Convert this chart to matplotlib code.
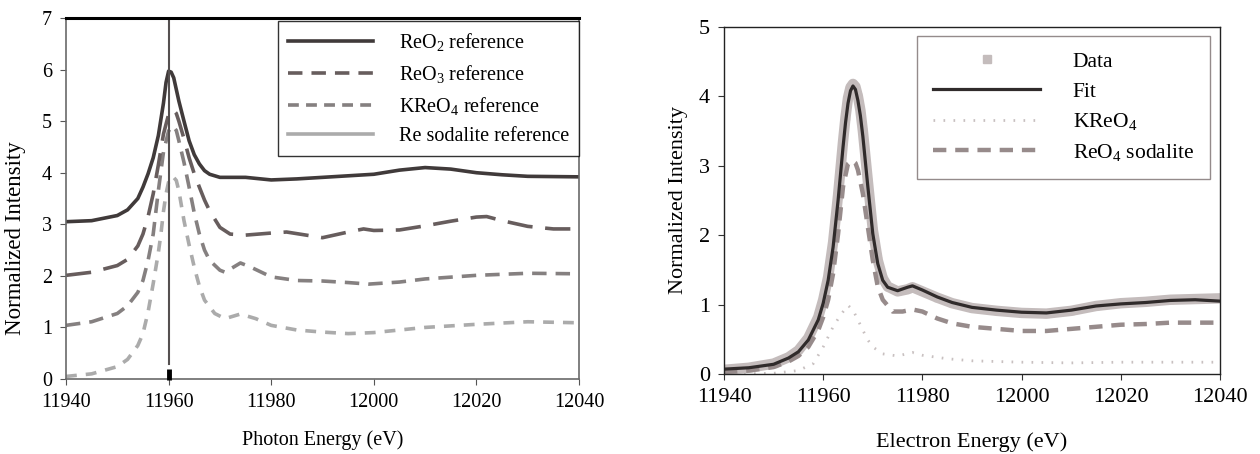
import numpy as np
import matplotlib
matplotlib.use("Agg")
import matplotlib.pyplot as plt
from matplotlib.lines import Line2D

plt.rcParams['font.family'] = ['Liberation Serif', 'DejaVu Serif']
plt.rcParams['mathtext.fontset'] = 'custom'
plt.rcParams['mathtext.rm'] = 'Liberation Serif'
plt.rcParams['mathtext.it'] = 'Liberation Serif:italic'

## ------------------------------ left panel: reference spectra ------------------------------
reo2_e = [11940, 11945, 11950, 11952, 11954, 11955, 11956, 11957, 11958, 11959, 11959.5, 11960,
          11960.5, 11961, 11962, 11963, 11964, 11965, 11966, 11967, 11968, 11970, 11975, 11980,
          11985, 11990, 12000, 12005, 12010, 12015, 12020, 12025, 12030, 12040]
reo2_i = [3.05, 3.07, 3.17, 3.28, 3.50, 3.72, 3.98, 4.29, 4.72, 5.35, 5.75, 5.97,
          5.95, 5.84, 5.39, 5.00, 4.62, 4.35, 4.17, 4.04, 3.97, 3.91, 3.91, 3.86,
          3.88, 3.91, 3.97, 4.05, 4.10, 4.07, 4.00, 3.96, 3.93, 3.92]

reo3_e = [11940, 11945, 11950, 11952, 11954, 11955, 11956, 11957, 11958, 11959, 11960, 11960.8,
          11961.5, 11962, 11963, 11964, 11965, 11966, 11967, 11968, 11970, 11972, 11975, 11980,
          11983, 11990, 11995, 11998, 12000, 12005, 12010, 12015, 12020, 12022, 12025, 12030,
          12035, 12040]
reo3_i = [2.01, 2.07, 2.20, 2.32, 2.58, 2.81, 3.15, 3.59, 4.15, 4.75, 5.13, 5.23,
          5.15, 5.00, 4.66, 4.29, 3.98, 3.72, 3.47, 3.26, 2.94, 2.81, 2.79, 2.83,
          2.85, 2.74, 2.85, 2.91, 2.88, 2.89, 2.97, 3.06, 3.14, 3.15, 3.07, 2.96,
          2.91, 2.91]

kreo4_e = [11940, 11945, 11950, 11952, 11954, 11955, 11956, 11957, 11958, 11959, 11960, 11960.8,
           11961.5, 11962, 11963, 11964, 11965, 11966, 11967, 11968, 11970, 11971, 11974, 11976,
           11980, 11985, 11990, 11995, 11999, 12005, 12010, 12020, 12030, 12040]
kreo4_i = [1.04, 1.11, 1.27, 1.42, 1.68, 1.91, 2.30, 2.81, 3.65, 4.40, 4.81, 4.91,
           4.82, 4.62, 4.20, 3.72, 3.22, 2.81, 2.50, 2.30, 2.11, 2.07, 2.25, 2.17,
           1.98, 1.91, 1.90, 1.87, 1.84, 1.88, 1.94, 2.01, 2.05, 2.04]

resod_e = [11940, 11945, 11950, 11952, 11954, 11955, 11956, 11957, 11958, 11958.5, 11959, 11959.5,
           11960, 11960.8, 11961.5, 11962, 11963, 11964, 11965, 11966, 11967, 11969, 11971, 11974,
           11977, 11980, 11985, 11990, 11995, 12000, 12005, 12010, 12020, 12030, 12040]
resod_i = [0.05, 0.10, 0.24, 0.38, 0.65, 0.88, 1.30, 1.85, 2.45, 2.81, 3.25, 3.59,
           3.82, 3.93, 3.85, 3.65, 3.07, 2.60, 2.17, 1.80, 1.53, 1.27, 1.17, 1.26,
           1.17, 1.04, 0.95, 0.91, 0.88, 0.90, 0.95, 1.00, 1.06, 1.11, 1.09]

edge_energy = 11960
left_labels = [r'ReO$_2$ reference', r'ReO$_3$ reference', r'KReO$_4$ reference',
               'Re sodalite reference']

## ------------------------------ right panel: fit of sample ------------------------------
fit_e = [11940, 11945, 11950, 11953, 11955, 11957, 11959, 11960, 11961, 11962, 11963, 11964,
         11964.5, 11965, 11965.5, 11966, 11966.5, 11967, 11967.5, 11968, 11969, 11970, 11971, 11972,
         11973, 11975, 11977, 11978, 11980, 11983, 11986, 11990, 11995, 12000, 12005, 12010,
         12015, 12020, 12025, 12030, 12035, 12040]
fit_i = [0.07, 0.09, 0.14, 0.23, 0.32, 0.49, 0.78, 1.02, 1.35, 1.83, 2.50, 3.27,
         3.62, 3.90, 4.08, 4.15, 4.10, 3.94, 3.72, 3.42, 2.70, 2.02, 1.59, 1.35,
         1.25, 1.20, 1.25, 1.27, 1.21, 1.11, 1.03, 0.96, 0.92, 0.89, 0.88, 0.92,
         0.98, 1.01, 1.03, 1.06, 1.07, 1.05]
data_i = [0.06, 0.09, 0.15, 0.24, 0.34, 0.52, 0.82, 1.07, 1.40, 1.90, 2.58, 3.35,
          3.70, 3.98, 4.13, 4.18, 4.14, 4.00, 3.80, 3.50, 2.78, 2.08, 1.64, 1.38,
          1.26, 1.19, 1.22, 1.25, 1.19, 1.10, 1.02, 0.95, 0.91, 0.88, 0.87, 0.91,
          0.98, 1.02, 1.04, 1.07, 1.08, 1.09]

kcomp_e = [11940, 11950, 11955, 11958, 11960, 11962, 11963.5, 11965, 11966, 11967, 11968, 11969,
           11970, 11972, 11975, 11978, 11980, 11985, 11990, 12000, 12010, 12020, 12040]
kcomp_i = [0.00, 0.01, 0.05, 0.15, 0.39, 0.68, 0.85, 0.99, 0.92, 0.78, 0.63, 0.49,
           0.39, 0.29, 0.26, 0.31, 0.27, 0.22, 0.19, 0.17, 0.16, 0.17, 0.17]

sod_e = [11940, 11945, 11950, 11953, 11955, 11957, 11959, 11960, 11961, 11962, 11963, 11964,
         11965, 11965.8, 11966.5, 11967, 11968, 11969, 11970, 11971, 11972, 11974, 11976, 11978,
         11980, 11983, 11986, 11990, 11995, 12000, 12005, 12010, 12015, 12020, 12025, 12030,
         12040]
sod_i = [0.03, 0.05, 0.10, 0.18, 0.26, 0.39, 0.63, 0.82, 1.07, 1.45, 2.02, 2.70,
         3.03, 3.08, 3.04, 2.94, 2.60, 2.12, 1.64, 1.26, 1.07, 0.90, 0.90, 0.93,
         0.90, 0.80, 0.73, 0.68, 0.65, 0.62, 0.62, 0.65, 0.68, 0.71, 0.72, 0.74,
         0.74]

right_labels = ['Data', 'Fit', r'KReO$_4$', r'ReO$_4$ sodalite']

xticks = [11940, 11960, 11980, 12000, 12020, 12040]

fig = plt.figure(figsize=(12.6, 4.54), dpi=100)

# left panel
ax1 = fig.add_axes([66/1260, 1 - 379/454, 513/1260, 361/454])
c_reo2, c_reo3, c_kreo4, c_sod = '#403a3a', '#675d5d', '#858080', '#ababab'
ax1.plot(resod_e, resod_i, color=c_sod, lw=2.6, dashes=(3, 2.5))
ax1.plot(kreo4_e, kreo4_i, color=c_kreo4, lw=2.6, dashes=(4, 2.5))
ax1.plot(reo3_e, reo3_i, color=c_reo3, lw=2.6, dashes=(7, 3.5))
ax1.plot(reo2_e, reo2_i, color=c_reo2, lw=2.6)
ax1.axvline(edge_energy, ymin=0.3/7, ymax=1, color='#555050', lw=1.5)
ax1.plot([edge_energy, edge_energy], [-0.02, 0.19], color='black', lw=3.5,
         solid_capstyle='butt', clip_on=False, zorder=5)
ax1.set_xlim(11940, 12040)
ax1.set_ylim(0, 7)
ax1.set_xticks(xticks)
ax1.set_yticks(range(0, 8))
ax1.tick_params(direction='out', length=4, labelsize=14.5, color='#555555', pad=6)
ax1.spines['top'].set_linewidth(2.2)
ax1.spines['top'].set_color('black')
for s in ['left', 'bottom', 'right']:
    ax1.spines[s].set_color('#6a6a6a')
    ax1.spines[s].set_linewidth(1.2)
ax1.set_xlabel('Photon Energy (eV)', fontsize=14.5, labelpad=13)
ax1.set_ylabel('Normalized Intensity', fontsize=16.5)
ax1.yaxis.set_label_coords(-0.078, 0.39)
h1 = [Line2D([], [], color=c_reo2, lw=2.6),
      Line2D([], [], color=c_reo3, lw=2.6, dashes=(4, 2.5)),
      Line2D([], [], color=c_kreo4, lw=2.6, dashes=(3, 2)),
      Line2D([], [], color=c_sod, lw=2.6)]
leg1 = ax1.legend(h1, left_labels, loc='upper right', bbox_to_anchor=(1.0, 0.992),
                  fontsize=14.5, frameon=True, fancybox=False, edgecolor='black',
                  handlelength=4.2, handletextpad=1.3, labelspacing=0.5,
                  borderpad=0.5, borderaxespad=0)
leg1.get_frame().set_linewidth(1.0)

# right panel
ax2 = fig.add_axes([724/1260, 1 - 374/454, 496/1260, 347/454])
c_data, c_fit, c_k, c_s = '#c4bcbc', '#302b2b', '#c8c0c0', '#978b8b'
ax2.plot(fit_e, data_i, color=c_data, lw=7.5, marker='s', ms=5, mec=c_data, mfc=c_data)
ax2.plot(kcomp_e, kcomp_i, color=c_k, lw=2, dashes=(0.6, 3))
ax2.plot(sod_e, sod_i, color=c_s, lw=3.2, dashes=(3, 2))
ax2.plot(fit_e, fit_i, color=c_fit, lw=2.3)
ax2.set_xlim(11940, 12040)
ax2.set_ylim(0, 5)
ax2.set_xticks(xticks)
ax2.set_yticks(range(0, 6))
ax2.tick_params(direction='out', length=4, labelsize=16, color='#333333', pad=6)
for s in ax2.spines.values():
    s.set_color('#222222')
    s.set_linewidth(1.0)
ax2.set_xlabel('Electron Energy (eV)', fontsize=16, labelpad=18)
ax2.set_ylabel('Normalized Intensity', fontsize=16, labelpad=8)
h2 = [Line2D([], [], ls='none', marker='s', ms=6, color=c_data),
      Line2D([], [], color=c_fit, lw=2.3),
      Line2D([], [], color=c_k, lw=2, dashes=(0.6, 3)),
      Line2D([], [], color=c_s, lw=3.2, dashes=(3, 2))]
leg2 = ax2.legend(h2, right_labels, loc='upper right', bbox_to_anchor=(0.98, 0.975),
                  fontsize=15.5, frameon=True, fancybox=False, edgecolor='#7a6e6e',
                  handlelength=5.0, handletextpad=1.5, labelspacing=0.45,
                  borderpad=0.75, borderaxespad=0)
leg2.get_frame().set_linewidth(1.0)

fig.savefig('out.png', dpi=100)
